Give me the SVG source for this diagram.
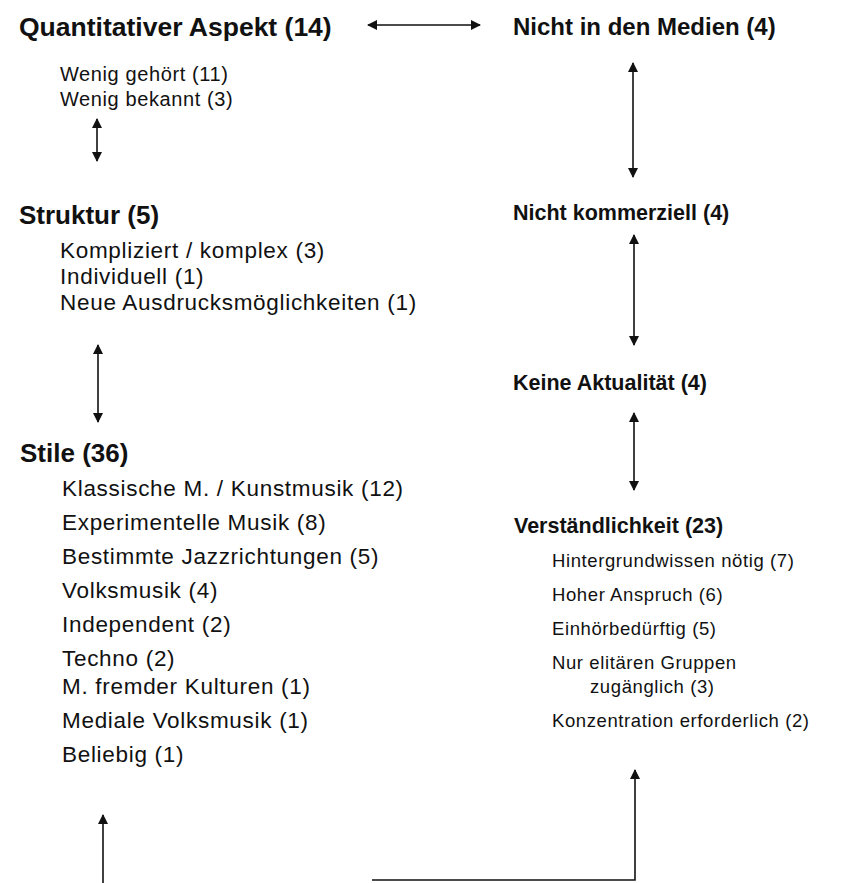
<svg xmlns="http://www.w3.org/2000/svg" width="864" height="883" viewBox="0 0 864 883">
<style>
text{font-family:"Liberation Sans",Arial,sans-serif;fill:#111;}
.h{font-weight:bold;font-size:21.5px;}
.hl{font-weight:bold;font-size:26px;}
.ht{font-weight:bold;font-size:26.5px;}
.hm{font-weight:bold;font-size:24px;}
.t{font-size:18.5px;letter-spacing:0.6px;}
.tq{font-size:20px;letter-spacing:0.6px;}
.tl{font-size:22.5px;letter-spacing:0.7px;}
.c{stroke:#111;stroke-width:1.6;fill:none;}
</style>
<defs>
<marker id="ah" viewBox="0 0 10 10" refX="9" refY="5" markerWidth="10" markerHeight="10" markerUnits="userSpaceOnUse" orient="auto-start-reverse">
<path d="M0,0 L10,5 L0,10 z" fill="#111"/>
</marker>
</defs>
<rect width="864" height="883" fill="#fff"/>
<g id="quantitativ">
<text class="ht" x="19" y="36">Quantitativer Aspekt (14)</text>
<text class="tq" x="60" y="81">Wenig gehört (11)</text>
<text class="tq" x="60" y="106">Wenig bekannt (3)</text>
</g>
<g id="struktur">
<text class="hl" x="19" y="224">Struktur (5)</text>
<text class="tl" x="60" y="258">Kompliziert / komplex (3)</text>
<text class="tl" x="60" y="284">Individuell (1)</text>
<text class="tl" x="60" y="310">Neue Ausdrucksmöglichkeiten (1)</text>
</g>
<g id="stile">
<text class="hl" x="20" y="462">Stile (36)</text>
<text class="tl" x="62" y="496">Klassische M. / Kunstmusik (12)</text>
<text class="tl" x="62" y="530">Experimentelle Musik (8)</text>
<text class="tl" x="62" y="564">Bestimmte Jazzrichtungen (5)</text>
<text class="tl" x="62" y="598">Volksmusik (4)</text>
<text class="tl" x="62" y="632">Independent (2)</text>
<text class="tl" x="62" y="666">Techno (2)</text>
<text class="tl" x="62" y="694">M. fremder Kulturen (1)</text>
<text class="tl" x="62" y="728">Mediale Volksmusik (1)</text>
<text class="tl" x="62" y="762">Beliebig (1)</text>
</g>
<g id="medien">
<text class="hm" x="513" y="35">Nicht in den Medien (4)</text>
</g>
<g id="kommerziell">
<text class="h" x="513" y="220">Nicht kommerziell (4)</text>
</g>
<g id="aktualitaet">
<text class="h" x="513" y="390">Keine Aktualität (4)</text>
</g>
<g id="verstaendlichkeit">
<text class="h" x="514" y="533">Verständlichkeit (23)</text>
<text class="t" x="552" y="567">Hintergrundwissen nötig (7)</text>
<text class="t" x="552" y="601">Hoher Anspruch (6)</text>
<text class="t" x="552" y="635">Einhörbedürftig (5)</text>
<text class="t" x="552" y="669">Nur elitären Gruppen</text>
<text class="t" x="590" y="693">zugänglich (3)</text>
<text class="t" x="552" y="727">Konzentration erforderlich (2)</text>
</g>
<g id="connectors">
<line class="c" x1="368" y1="25" x2="480" y2="25" marker-start="url(#ah)" marker-end="url(#ah)"/>
<line class="c" x1="97" y1="119" x2="97" y2="161" marker-start="url(#ah)" marker-end="url(#ah)"/>
<line class="c" x1="98" y1="345" x2="98" y2="422" marker-start="url(#ah)" marker-end="url(#ah)"/>
<line class="c" x1="633" y1="63" x2="633" y2="177" marker-start="url(#ah)" marker-end="url(#ah)"/>
<line class="c" x1="634" y1="235" x2="634" y2="345" marker-start="url(#ah)" marker-end="url(#ah)"/>
<line class="c" x1="634" y1="413" x2="634" y2="490" marker-start="url(#ah)" marker-end="url(#ah)"/>
<line class="c" x1="103" y1="883" x2="103" y2="815" marker-end="url(#ah)"/>
<polyline class="c" points="372,880 635,880 635,770" marker-end="url(#ah)"/>
</g>
</svg>
